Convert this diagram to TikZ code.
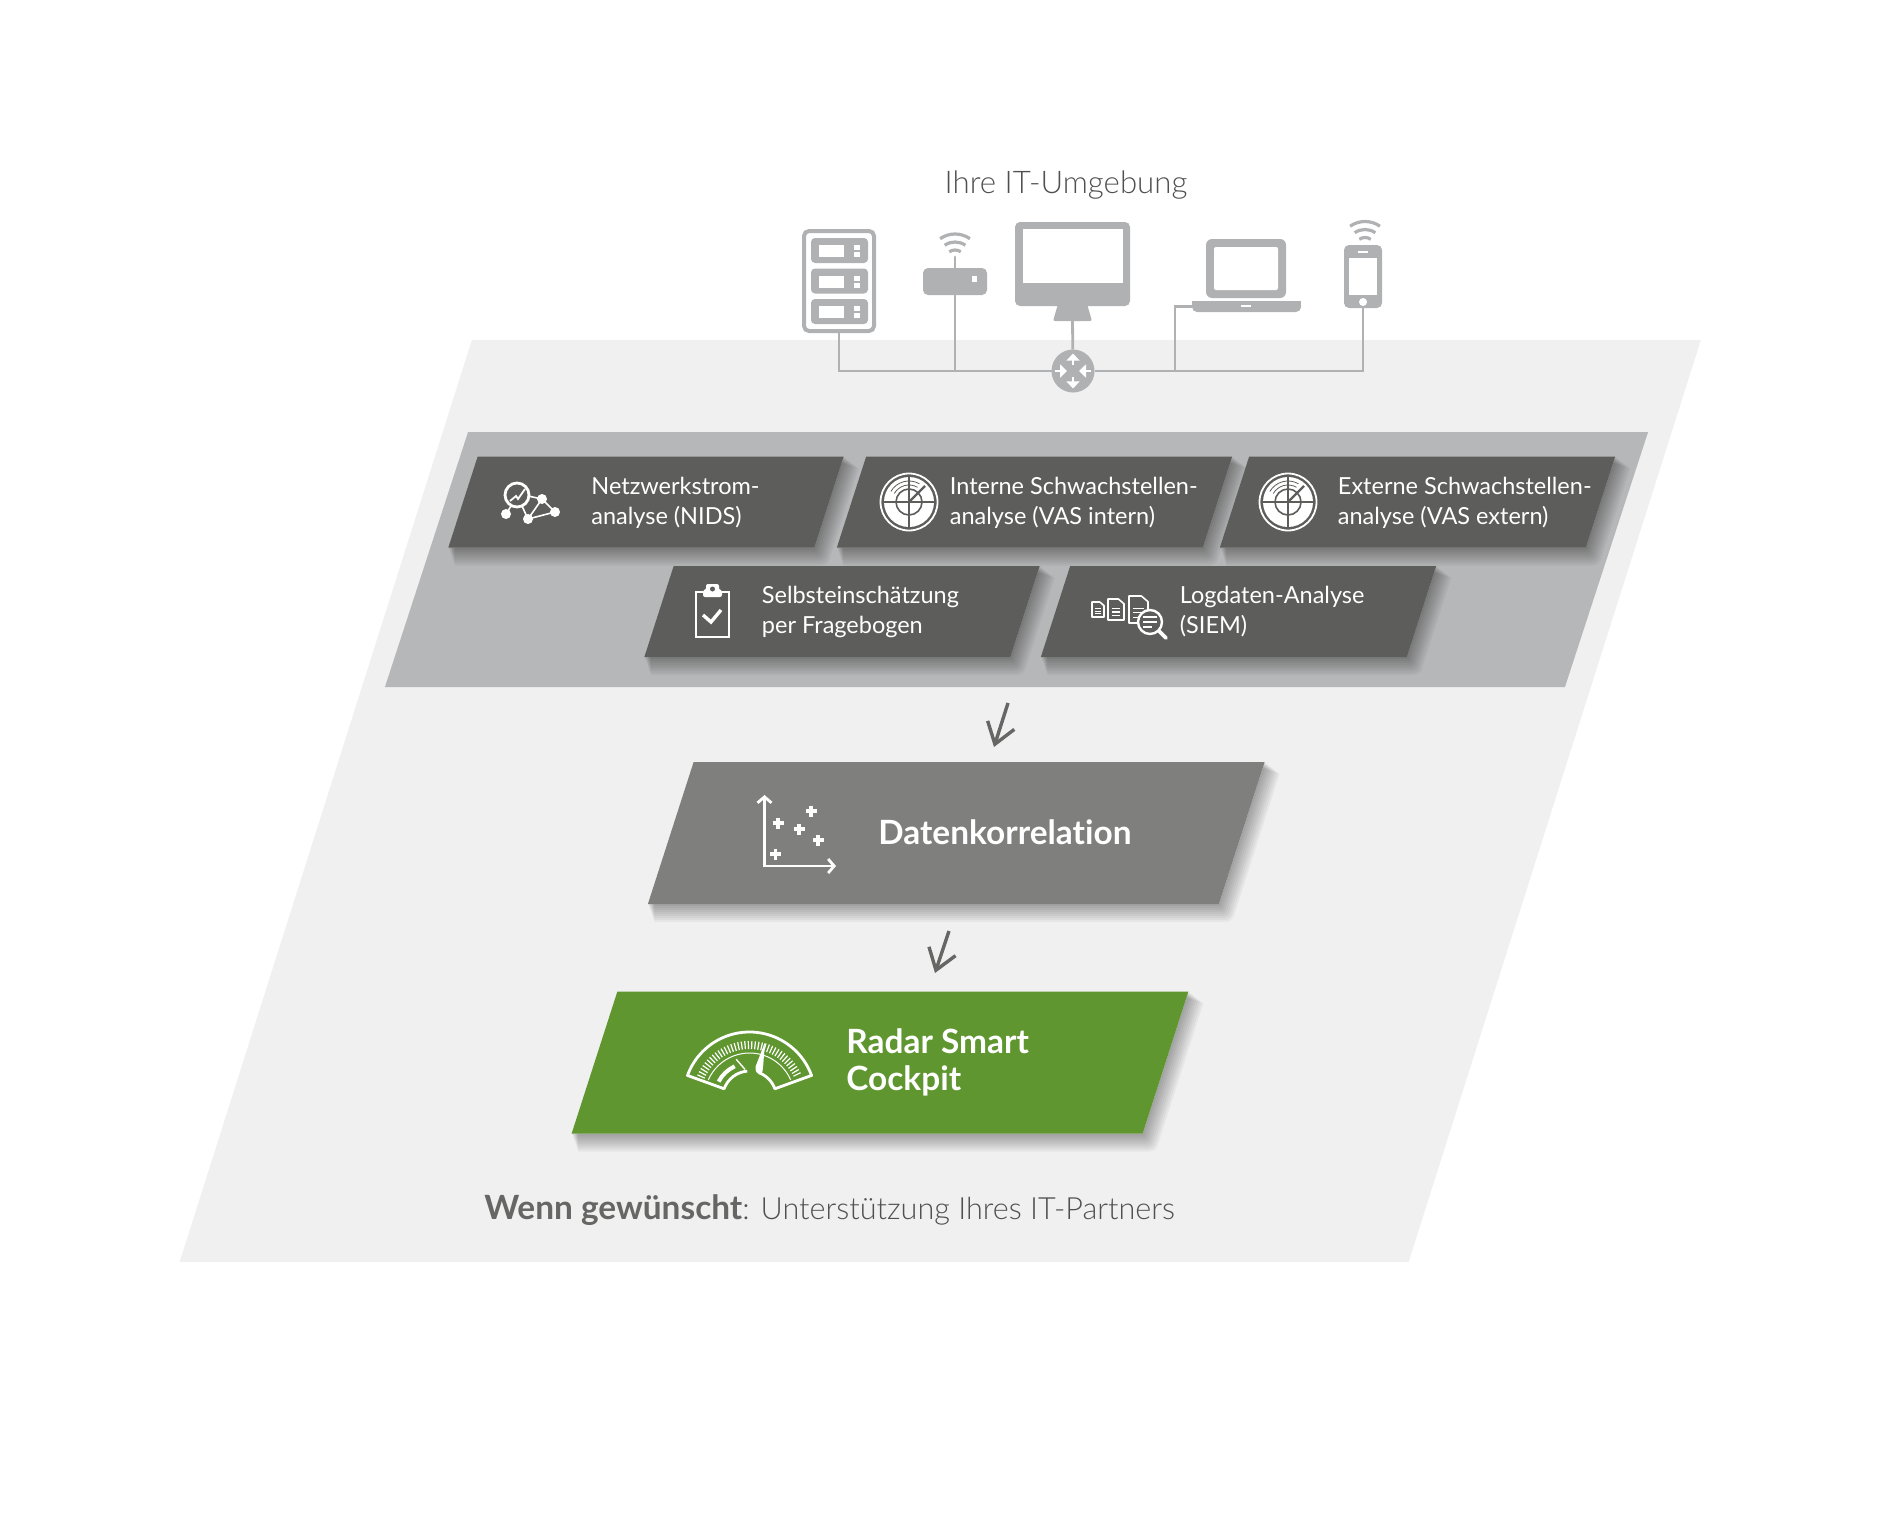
\documentclass[tikz,border=0pt]{standalone}
\usepackage{fontspec}
\setmainfont{Lato}[UprightFont=* Light, BoldFont=* Bold, Ligatures=NoCommon]
\newfontfamily\labelfont{Lato}[Ligatures=NoCommon]
\usetikzlibrary{arrows.meta}
\pgfdeclarelayer{back}
\pgfdeclarelayer{shadow}
\pgfsetlayers{back,shadow,main}
\definecolor{palegray}{HTML}{F0F0F0}
\definecolor{panelgray}{HTML}{B6B7B8}
\definecolor{darkgray}{HTML}{5D5D5B}
\definecolor{midgray}{HTML}{7F7F7D}
\definecolor{radargreen}{HTML}{5F962F}
\definecolor{devgray}{HTML}{B0B1B2}
\definecolor{textgray}{HTML}{505050}
\definecolor{arrowgray}{HTML}{666665}
\tikzstyle{plate} = [rectangle, xslant=0.322, transform shape, inner sep=0, outer sep=0]
\tikzstyle{darkbox} = [plate, fill=darkgray, minimum width=183pt, minimum height=45.5pt]
\tikzstyle{bigbox} = [plate, minimum width=285.5pt, minimum height=71pt]
\tikzstyle{boxlabel} = [anchor=west, align=left, inner sep=0, text=white,
    font=\labelfont\fontsize{11.75}{15}\selectfont]
\tikzstyle{biglabel} = [anchor=west, align=left, inner sep=0, text=white,
    font=\fontsize{16.7}{18.5}\selectfont\bfseries]
\tikzstyle{greylabel} = [inner sep=0, text=textgray, font=\fontsize{15.3}{18}\selectfont]
\tikzstyle{device} = [fill=devgray, rectangle, rounded corners=2.5pt, inner sep=0, outer sep=0]
\tikzstyle{busline} = [draw=devgray, line width=1.4pt]
\tikzstyle{flowarrow} = [draw=arrowgray, line width=1.7pt,
    -{Straight Barb[length=10pt,width=14pt,line width=1.7pt]}]
\tikzstyle{iconline} = [draw=white, line width=1.4pt]
\tikzstyle{wifiarc} = [draw=devgray, line width=1.6pt]
\newcommand{\softshadow}[1]{
    \begin{pgfonlayer}{shadow}
        \foreach \h in {0.5,1,...,4.5}
            \draw[black, opacity=0.04, line width=2*\h pt, line join=round,
                transform canvas={shift={({0.73*\h pt},{-\h pt})}}]
                (#1.north east) -- (#1.south east) -- (#1.south west);
    \end{pgfonlayer}
}
\newcommand{\wifisign}[2]{
    \begin{scope}[shift={(#1,#2)}]
        \foreach \r in {26,18,10}
            \draw[wifiarc] (-125:\r) arc[start angle=-125, end angle=-55, radius=\r];
    \end{scope}
}
\newcommand{\radaricon}[2]{
    \begin{scope}[shift={(#1,#2)}]
        \draw[iconline, line width=0.9pt] (0,0) circle (28.5);
        \fill[white] (0,0) circle (25);
        \draw[darkgray, line width=0.8pt] (-25,0) -- (25,0) (0,-25) -- (0,25) (0,0) circle (13);
        \draw[darkgray, line width=1.2pt] (0,0) -- (16,-16);
        \foreach \r in {17,21}
            \draw[darkgray, line width=0.4pt] (-150:\r) arc[start angle=-150, end angle=-60, radius=\r];
    \end{scope}
}
\newcommand{\docicon}[4]{
    \draw[iconline, line width=0.8pt, line join=round, fill=darkgray] (#1,#2) -- ++(0.65*#3,0) -- ++(0.35*#3,0.3*#3) -- ++(0,#4-0.3*#3)
        -- ++(-#3,0) -- cycle;
    \foreach \l in {0.45,0.62,0.79}
        \draw[iconline, line width=0.6pt] (#1+0.22*#3,#2+\l*#4) -- ++(0.56*#3,0);
}

\begin{document}
\begin{tikzpicture}[x=0.5pt, y=-0.5pt]
    \useasboundingbox (0,0) rectangle (1882,1536);
    % backgrounds
    \begin{pgfonlayer}{back}
        \node [shift={(940.25,801)}, plate, xslant=-0.005, fill=palegray, minimum width=614.5pt, minimum height=461pt] (ground) {};
        \node [shift={(1016.5,559.5)}, plate, xslant=0.004, fill=panelgray, minimum width=590pt, minimum height=127.5pt] (panel) {};
    \end{pgfonlayer}
    \node [greylabel, font=\fontsize{15.6}{18}\selectfont] (title) at (1066,185.5) {Ihre IT-Umgebung};

    % devices
    \node [device, minimum width=35pt, minimum height=50pt, fill=white, draw=devgray, line width=2pt] (server) at (839,281) {};
    \foreach \y in {0,30.5,61} {
        \fill[devgray, rounded corners=2pt] (811,238+\y) rectangle (868,263+\y);
        \fill[white] (819,245+\y) rectangle (844,257+\y);
        \fill[white] (854,245+\y) rectangle (860,250+\y);
        \fill[white] (854,252+\y) rectangle (860,257+\y);
    }
    \node [device, minimum width=32pt, minimum height=13.5pt] (router) at (955,281.5) {};
    \fill[white] (972,276) rectangle (977,282);
    \draw[busline, line cap=round] (955,268) -- (955,257);
    \wifisign{955}{260}
    \node [device, minimum width=57.5pt, minimum height=42pt] (monitor) at (1072.5,264) {};
    \fill[white] (1023,229) rectangle (1123,283);
    \fill[devgray, rounded corners=1pt] (1058,304) -- (1087,304) -- (1092,321) -- (1053,321) -- cycle;
    \coordinate (stand) at (1072.5,321);
    \node [device, minimum width=40pt, minimum height=29.5pt, rounded corners=3pt] (lid) at (1246,268.5) {};
    \fill[white, rounded corners=1pt] (1214,247) rectangle (1278,290);
    \node [device, minimum width=54.5pt, minimum height=5.5pt, rounded corners=2.5pt] (laptop) at (1246.5,306.5) {};
    \fill[devgray] (1192,301) rectangle (1301,306);
    \fill[white] (1241,305) rectangle (1251,307);
    \node [device, minimum width=19pt, minimum height=31.5pt] (phone) at (1363,276.5) {};
    \fill[white] (1349,258) rectangle (1377,295);
    \fill[white] (1358,251) rectangle (1368,253);
    \fill[white] (1363,302) circle (4);
    \wifisign{1365}{247.5}

    % network lines
    \node [circle, fill=devgray, minimum size=21.5pt, inner sep=0, outer sep=0] (hub) at (1073,371) {};
    \coordinate (lapbend) at (1175,371);
    \draw[busline] (server.south) |- (hub);
    \draw[busline] (router.south) -- (router.south |- hub);
    \draw[busline] (stand) -- (hub);
    \draw[busline] (phone.south) |- (hub);
    \draw[busline] (laptop.west) -| (lapbend);
    \begin{scope}[shift={(hub)}]
        \foreach \a/\b in {0/-6, 0/6} \draw[white, line width=1.2pt, -{Triangle[length=3.5pt,width=6.5pt]}] (0,\b) -- (0,\b*2.9);
        \foreach \a/\b in {-18/-6, 18/6} \draw[white, line width=1.2pt, -{Triangle[length=3.5pt,width=6.5pt]}] (\a,0) -- (\b,0);
    \end{scope}

    % upper boxes
    \node [shift={(646,502)}, darkbox] (nids) {};
    \node [shift={(1034.5,502)}, darkbox] (vasint) {};
    \node [shift={(1417.5,502)}, darkbox] (vasext) {};
    \node [shift={(842,611.5)}, darkbox] (selfcheck) {};
    \node [shift={(1238.5,611.5)}, darkbox] (siem) {};
    \node [boxlabel] (nidslabel) at (591,503) {Netzwerkstrom-\\analyse (NIDS)};
    \node [boxlabel] (vasintlabel) at (949.5,503) {Interne Schwachstellen-\\analyse (VAS intern)};
    \node [boxlabel] (vasextlabel) at (1337.5,503) {Externe Schwachstellen-\\analyse (VAS extern)};
    \node [boxlabel] (selfchecklabel) at (761.5,611.5) {Selbsteinschätzung\\per Fragebogen};
    \node [boxlabel] (siemlabel) at (1179.5,611.5) {Logdaten-Analyse\\(SIEM)};

    % icon network flow
    \draw[iconline] (517,495) circle (12);
    \foreach \x/\y in {506/514, 528/519, 542/499, 555/512}
        \fill[white] (\x,\y) circle (5);
    \draw[iconline, line width=0.8pt] (511,506) -- (506,514) (522,506) -- (528,519) -- (542,499) -- (555,512) -- (528,519) (528,496) -- (542,499);
    \draw[iconline, line width=0.9pt] (510,501) -- (516,496) -- (518,499) -- (525,489);
    \radaricon{909}{502}
    \radaricon{1288}{502}
    % icon clipboard
    \draw[iconline] (703,592) -- (696,592) -- (696,637) -- (729,637) -- (729,592) -- (722,592);
    \fill[white, rounded corners=1pt] (703,597) -- (703,590) -- (706,590) -- (706,584) -- (719,584) -- (719,590) -- (722,590) -- (722,597) -- cycle;
    \fill[darkgray] (712.5,589) circle (2.5);
    \draw[iconline, line width=1.7pt] (703,615) -- (711,622) -- (721,610);
    % icon documents
    \docicon{1092}{602}{12}{15}
    \docicon{1108}{599}{16}{21}
    \docicon{1129}{596}{19}{27}
    \draw[iconline, line width=1.2pt, fill=darkgray] (1150,622) circle (12);
    \draw[iconline, line width=1.8pt, line cap=round] (1159,631) -- (1166,638);
    \draw[iconline, line width=0.8pt] (1143,617) -- (1157,617) (1143,622) -- (1157,622) (1143,627) -- (1152,627);

    % flow
    \coordinate (flowa) at (1008,703);
    \coordinate (flowb) at (994,747);
    \coordinate (flowc) at (949,931);
    \coordinate (flowd) at (935,973);
    \draw[flowarrow] (flowa) -- (flowb);
    \draw[flowarrow] (flowc) -- (flowd);

    \node [shift={(956.25,833)}, bigbox, fill=midgray] (korrelation) {};
    \node [biglabel] (korrlabel) at (878,832) {Datenkorrelation};
    \draw[iconline, {Straight Barb[length=3pt,width=7pt]}-{Straight Barb[length=3pt,width=7pt]}] (764.5,795) -- (764.5,866) -- (836,866);
    \foreach \x/\y in {811/811, 778/823, 799/829, 818/840, 775.5/854}
        \draw[iconline, line width=1.6pt] (\x-5.5,\y) -- (\x+5.5,\y) (\x,\y-5.5) -- (\x,\y+5.5);

    \node [shift={(880,1062.5)}, bigbox, fill=radargreen] (cockpit) {};
    \node [biglabel] (cockpitlabel) at (846,1062) {Radar Smart\\Cockpit};
    % icon gauge
    \begin{scope}[shift={(749.5,1098)}]
        \draw[iconline, line join=round] (-70:27) arc[start angle=-70, end angle=-20, radius=27] -- (-20:66)
            arc[start angle=-20, end angle=-160, radius=66] -- (-160:27) arc[start angle=-160, end angle=-95, radius=27];
        \foreach \a in {-156,-152.4,...,-24}
            \draw[white, line width=0.6pt] (\a:49) -- (\a:57);
        \draw[white, line width=0.5pt] (-156:45) arc[start angle=-156, end angle=-24, radius=45];
        \draw[white, line width=2pt] (-152:35) arc[start angle=-152, end angle=-115, radius=35];
        \draw[white, line width=0.7pt] (-109:41) -- (-99:29);
        \fill[white, rounded corners=1pt] (15.5,-56) -- (5.5,-30) -- (7.5,-24) -- (12.5,-24) -- (13.5,-30) -- cycle;
    \end{scope}

    \node [greylabel, anchor=west] (partner) at (484,1210.5) {\textcolor{arrowgray}{\textbf{\fontsize{16.7}{18}\selectfont Wenn gewünscht}}: Unterstützung Ihres IT-Partners};

    % shadows
    \foreach \b in {nids,vasint,vasext,selfcheck,siem,korrelation,cockpit} {
        \softshadow{\b}
    }
\end{tikzpicture}
\end{document}
